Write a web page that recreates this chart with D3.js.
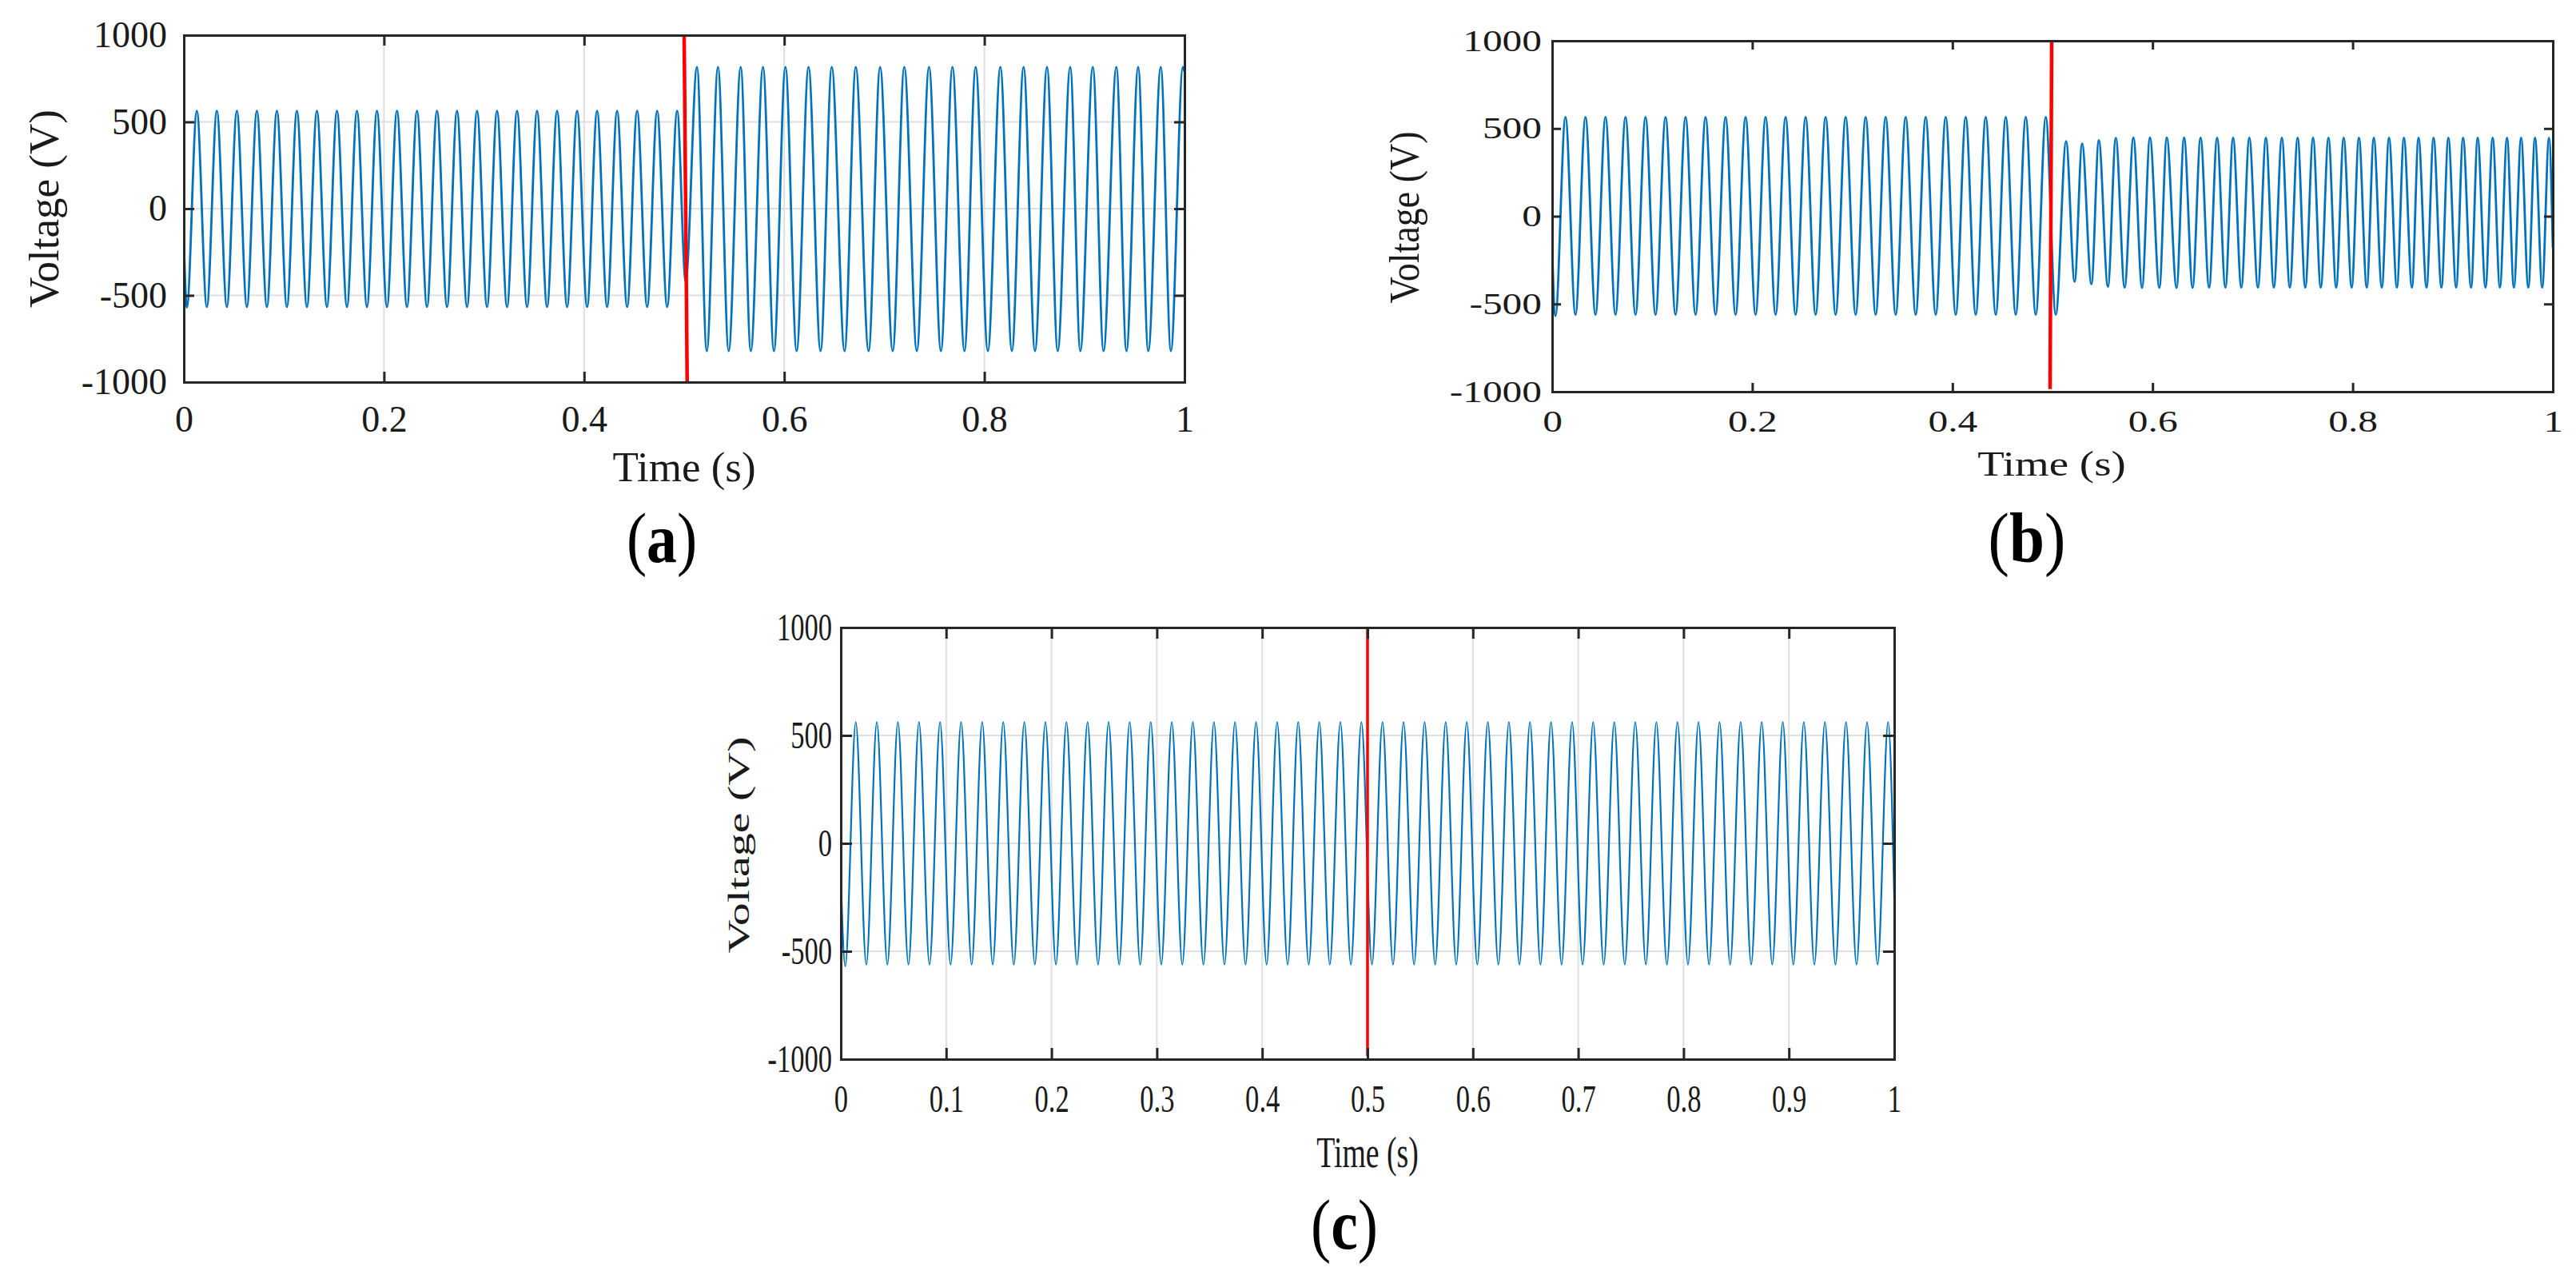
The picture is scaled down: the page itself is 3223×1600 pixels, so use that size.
<!DOCTYPE html>
<html>
<head>
<meta charset="utf-8">
<script src="https://cdn.jsdelivr.net/npm/d3@7"></script>
<style>
  body { margin: 0; background: #ffffff; }
  svg { display: block; }
</style>
</head>
<body>
<svg id="fig" width="3223" height="1600"></svg>
<script>
// ---------------- DATA ----------------
const voltTicks = [-1000, -500, 0, 500, 1000];
const timeTicksAB = [0, 0.2, 0.4, 0.6, 0.8, 1];
const timeTicksC = [0, 0.1, 0.2, 0.3, 0.4, 0.5, 0.6, 0.7, 0.8, 0.9, 1];
const panelNames = ["a", "b", "c"];
const axisTitleX = "Time (s)";
const axisTitleY = "Voltage (V)";

// (a) waveform extrema (s, V)
const timeA = [
  0, 0.003, 0.013, 0.023, 0.033, 0.043, 0.053, 0.063, 0.073, 0.083, 0.093,
  0.103, 0.113, 0.123, 0.133, 0.143, 0.153, 0.163, 0.173, 0.183, 0.193,
  0.203, 0.213, 0.223, 0.233, 0.243, 0.253, 0.263, 0.273, 0.283, 0.293,
  0.303, 0.313, 0.323, 0.333, 0.343, 0.353, 0.363, 0.373, 0.383, 0.393,
  0.403, 0.413, 0.423, 0.433, 0.443, 0.453, 0.463, 0.473, 0.483, 0.493,
  0.5015,
  0.5128, 0.5226, 0.5338, 0.5445, 0.5565, 0.5666, 0.5788, 0.5897, 0.6012, 0.6124,
  0.6243, 0.6363, 0.6475, 0.6603, 0.6715, 0.6843, 0.6958, 0.7084, 0.7200, 0.7325,
  0.7447, 0.7566, 0.7681, 0.7801, 0.7913, 0.8035, 0.8160, 0.8275, 0.8392, 0.8506,
  0.8626, 0.8733, 0.8858, 0.8959, 0.9084, 0.9191, 0.9319, 0.9420, 0.9537, 0.9638,
  0.9763, 0.9864, 0.9984, 1
];
const voltA = [
  -185, -570, 564, -566, 564, -566, 564, -566, 564, -566, 564,
  -566, 564, -566, 564, -566, 564, -566, 564, -566, 564,
  -566, 564, -566, 564, -566, 564, -566, 564, -566, 564,
  -566, 564, -566, 564, -566, 564, -566, 564, -566, 564,
  -566, 564, -566, 564, -566, 564, -566, 564, -566, 564,
  -420,
  816, -821, 816, -821, 816, -821, 816, -821, 816, -821,
  816, -821, 816, -821, 816, -821, 816, -821, 816, -821,
  816, -821, 816, -821, 816, -821, 816, -821, 816, -821,
  816, -821, 816, -821, 816, -821, 816, -821, 816, -821,
  816, -821, 816, 790
];
const faultTimeA = [0.500, 0.503];
const faultVoltA = [1000, -1000];

// (b) waveform extrema (s, V)
const timeB = [
  0, 0.0033, 0.0133, 0.0233, 0.0333, 0.0433, 0.0533, 0.0633, 0.0733, 0.0833, 0.0933,
  0.1033, 0.1133, 0.1233, 0.1333, 0.1433, 0.1533, 0.1633, 0.1733, 0.1833, 0.1933,
  0.2033, 0.2133, 0.2233, 0.2333, 0.2433, 0.2533, 0.2633, 0.2733, 0.2833, 0.2933,
  0.3033, 0.3133, 0.3233, 0.3333, 0.3433, 0.3533, 0.3633, 0.3733, 0.3833, 0.3933,
  0.4033, 0.4133, 0.4233, 0.4333, 0.4433, 0.4533, 0.4633, 0.4733, 0.4833, 0.4933,
  0.5033,
  0.5136, 0.5221, 0.5296, 0.5389, 0.5463, 0.5554, 0.5633, 0.5721, 0.5809, 0.5895,
  0.5974, 0.6068, 0.6142, 0.6240, 0.6315, 0.6400, 0.6480, 0.6565, 0.6645, 0.6728,
  0.6805, 0.6887, 0.6967, 0.7053, 0.7133, 0.7212, 0.7292, 0.7372, 0.7450, 0.7526,
  0.7604, 0.7681, 0.7758, 0.7835, 0.7910, 0.7990, 0.8062, 0.8141, 0.8211, 0.8291,
  0.8363, 0.8442, 0.8512, 0.8592, 0.8658, 0.8738, 0.8808, 0.8887, 0.8956, 0.9034,
  0.9103, 0.9183, 0.9249, 0.9327, 0.9399, 0.9471, 0.9542, 0.9611, 0.9683, 0.9755,
  0.9822, 0.9894, 0.9962, 1
];
const voltB = [
  -190, -568, 565, -562, 565, -562, 565, -562, 565, -562, 565,
  -562, 565, -562, 565, -562, 565, -562, 565, -562, 565,
  -562, 565, -562, 565, -562, 565, -562, 565, -562, 565,
  -562, 565, -562, 565, -562, 565, -562, 565, -562, 565,
  -562, 565, -562, 565, -562, 565, -562, 565, -562, 565,
  -561,
  428, -373, 414, -387, 433, -401, 446, -406, 448, -408,
  448, -408, 448, -408, 448, -408, 447, -406, 447, -406,
  447, -406, 447, -406, 447, -406, 447, -406, 447, -406,
  447, -406, 447, -406, 447, -406, 447, -406, 447, -406,
  447, -406, 447, -406, 447, -406, 447, -406, 447, -406,
  447, -406, 447, -406, 447, -406, 447, -406, 447, -406,
  447, -406, 447, -180
];
const faultTimeB = [0.4992, 0.4976];
const faultVoltB = [1000, -985];

// (c) waveform extrema (s, V)
const timeC = [
  0,
  0.0042, 0.0142, 0.0242, 0.0342, 0.0442, 0.0542, 0.0642, 0.0742, 0.0842, 0.0942,
  0.1042, 0.1142, 0.1242, 0.1342, 0.1442, 0.1542, 0.1642, 0.1742, 0.1842, 0.1942,
  0.2042, 0.2142, 0.2242, 0.2342, 0.2442, 0.2542, 0.2642, 0.2742, 0.2842, 0.2942,
  0.3042, 0.3142, 0.3242, 0.3342, 0.3442, 0.3542, 0.3642, 0.3742, 0.3842, 0.3942,
  0.4042, 0.4142, 0.4242, 0.4342, 0.4442, 0.4542, 0.4642, 0.4742, 0.4842, 0.4942,
  0.5042, 0.5142, 0.5242, 0.5342, 0.5442, 0.5542, 0.5642, 0.5742, 0.5842, 0.5942,
  0.6042, 0.6142, 0.6242, 0.6342, 0.6442, 0.6542, 0.6642, 0.6742, 0.6842, 0.6942,
  0.7042, 0.7142, 0.7242, 0.7342, 0.7442, 0.7542, 0.7642, 0.7742, 0.7842, 0.7942,
  0.8042, 0.8142, 0.8242, 0.8342, 0.8442, 0.8542, 0.8642, 0.8742, 0.8842, 0.8942,
  0.9042, 0.9142, 0.9242, 0.9342, 0.9442, 0.9542, 0.9642, 0.9742, 0.9842, 0.9942,
  1
];
const voltC = [
  -160,
  -570, 562, -562, 562, -562, 562, -562, 562, -562, 562,
  -562, 562, -562, 562, -562, 562, -562, 562, -562, 562,
  -562, 562, -562, 562, -562, 562, -562, 562, -562, 562,
  -562, 562, -562, 562, -562, 562, -562, 562, -562, 562,
  -562, 562, -562, 562, -562, 562, -562, 562, -562, 562,
  -562, 562, -562, 562, -562, 562, -562, 562, -562, 562,
  -562, 562, -562, 562, -562, 562, -562, 562, -562, 562,
  -562, 562, -562, 562, -562, 562, -562, 562, -562, 562,
  -562, 562, -562, 562, -562, 562, -562, 562, -562, 562,
  -562, 562, -562, 562, -562, 562, -562, 562, -562, 562,
  -250
];
const faultTimeC = [0.5, 0.5];
const faultVoltC = [1000, -985];

// ---------------- LAYOUT ----------------
const svg = d3.select("#fig");
svg.append("rect").attr("width", 3223).attr("height", 1600).attr("fill", "#ffffff");

const SERIF = "'Liberation Serif', 'Times New Roman', serif";
const AXIS_COLOR = "#262626";

const panels = [
  { id: "a", name: panelNames[0], time: timeA, volt: voltA, fT: faultTimeA, fV: faultVoltA,
    xTicks: timeTicksAB, x0: 230, x1: 1482, y0: 44, y1: 478, grid: true,
    lw: 2.8, redW: 4.5, tick: 13, tickFont: 46, sx: 1, xPad: 29, yPad: 21,
    titleFont: 53, titleSx: 1, xTitle: [856, 602],
    yTitleFont: 53, yTitleSx: 1, yTitle: [73, 261],
    labelFont: 88, labelSx: 0.86, label: [828, 703] },
  { id: "b", name: panelNames[1], time: timeB, volt: voltB, fT: faultTimeB, fV: faultVoltB,
    xTicks: timeTicksAB, x0: 1942, x1: 3194, y0: 51, y1: 490, grid: false,
    lw: 2.8, redW: 4.5, tick: 11, tickFont: 38, sx: 1.3, xPad: 23, yPad: 13,
    titleFont: 45, titleSx: 1.22, xTitle: [2567, 595],
    yTitleFont: 46, yTitleSx: 1.15, yTitle: [1775, 272],
    labelFont: 88, labelSx: 0.9, label: [2536, 703] },
  { id: "c", name: panelNames[2], time: timeC, volt: voltC, fT: faultTimeC, fV: faultVoltC,
    xTicks: timeTicksC, x0: 1052, x1: 2370, y0: 785, y1: 1325, grid: true,
    lw: 2.2, redW: 3.5, tick: 14, tickFont: 48, sx: 0.72, xPad: 32, yPad: 11,
    titleFont: 54, titleSx: 0.7, xTitle: [1711, 1460],
    yTitleFont: 58, yTitleSx: 0.66, yTitle: [937, 1057],
    labelFont: 88, labelSx: 0.86, label: [1682, 1562] }
];

const fmt = d => String(d);

panels.forEach(c => {
  const g = svg.append("g").attr("class", "panel-" + c.id);
  const x = d3.scaleLinear().domain([0, 1]).range([c.x0, c.x1]);
  const y = d3.scaleLinear().domain([-1000, 1000]).range([c.y1, c.y0]);

  const clipId = "clip-" + c.id;
  svg.append("clipPath").attr("id", clipId)
    .append("rect").attr("x", c.x0).attr("y", c.y0)
    .attr("width", c.x1 - c.x0).attr("height", c.y1 - c.y0);

  // grid
  if (c.grid) {
    g.append("g").selectAll("line").data(c.xTicks).join("line")
      .attr("x1", d => x(d)).attr("x2", d => x(d))
      .attr("y1", c.y0).attr("y2", c.y1)
      .attr("stroke", "#dfdfdf").attr("stroke-width", 2);
    g.append("g").selectAll("line").data(voltTicks).join("line")
      .attr("x1", c.x0).attr("x2", c.x1)
      .attr("y1", d => y(d)).attr("y2", d => y(d))
      .attr("stroke", "#dfdfdf").attr("stroke-width", 2);
  }

  // waveform
  const pts = c.time.map((t, i) => ({ t: t, v: c.volt[i] }));
  g.append("path").datum(pts)
    .attr("clip-path", `url(#${clipId})`)
    .attr("fill", "none").attr("stroke", "#0072BD")
    .attr("stroke-width", c.lw).attr("stroke-linejoin", "round")
    .attr("d", d3.line().x(d => x(d.t)).y(d => y(d.v)).curve(d3.curveMonotoneX));

  // fault instant marker
  const fpts = c.fT.map((t, i) => ({ t: t, v: c.fV[i] }));
  g.append("path").datum(fpts)
    .attr("fill", "none").attr("stroke", "#ff0000").attr("stroke-width", c.redW)
    .attr("d", d3.line().x(d => x(d.t)).y(d => y(d.v)));

  // axes (box with inward ticks)
  const styleAxis = sel => {
    sel.select(".domain").attr("stroke", AXIS_COLOR).attr("stroke-width", 3).attr("stroke-linecap", "square");
    sel.selectAll(".tick line").attr("stroke", AXIS_COLOR).attr("stroke-width", 3);
    sel.attr("font-family", SERIF).attr("font-size", c.tickFont);
    sel.selectAll(".tick text").attr("fill", "#1a1a1a");
  };

  const bottom = g.append("g").attr("transform", `translate(0,${c.y1})`)
    .call(d3.axisBottom(x).tickValues(c.xTicks).tickFormat(fmt)
      .tickSizeInner(-c.tick).tickSizeOuter(0).tickPadding(c.xPad));
  styleAxis(bottom);
  bottom.selectAll(".tick text").attr("transform", `scale(${c.sx},1)`);

  const top = g.append("g").attr("transform", `translate(0,${c.y0})`)
    .call(d3.axisTop(x).tickValues(c.xTicks).tickFormat("")
      .tickSizeInner(-c.tick).tickSizeOuter(0));
  styleAxis(top);

  const left = g.append("g").attr("transform", `translate(${c.x0},0)`)
    .call(d3.axisLeft(y).tickValues(voltTicks).tickFormat(fmt)
      .tickSizeInner(-c.tick).tickSizeOuter(0).tickPadding(c.yPad));
  styleAxis(left);
  left.selectAll(".tick text")
    .attr("x", -c.yPad / c.sx)
    .attr("transform", `scale(${c.sx},1)`);

  const right = g.append("g").attr("transform", `translate(${c.x1},0)`)
    .call(d3.axisRight(y).tickValues(voltTicks).tickFormat("")
      .tickSizeInner(-c.tick).tickSizeOuter(0));
  styleAxis(right);

  // axis titles
  g.append("text")
    .attr("transform", `translate(${c.xTitle[0]},${c.xTitle[1]}) scale(${c.titleSx},1)`)
    .attr("text-anchor", "middle").attr("font-family", SERIF)
    .attr("font-size", c.titleFont).attr("fill", "#1a1a1a")
    .text(axisTitleX);

  g.append("text")
    .attr("transform", `translate(${c.yTitle[0]},${c.yTitle[1]}) scale(${c.yTitleSx},1) rotate(-90)`)
    .attr("text-anchor", "middle").attr("font-family", SERIF)
    .attr("font-size", c.yTitleFont).attr("fill", "#1a1a1a")
    .text(axisTitleY);

  // panel label "(x)"
  const lab = g.append("text")
    .attr("transform", `translate(${c.label[0]},${c.label[1]}) scale(${c.labelSx},1)`)
    .attr("text-anchor", "middle").attr("font-family", SERIF)
    .attr("font-size", c.labelFont).attr("fill", "#000000");
  lab.append("tspan").text("(");
  lab.append("tspan").attr("font-weight", "bold").text(c.name);
  lab.append("tspan").text(")");
});
</script>
</body>
</html>
